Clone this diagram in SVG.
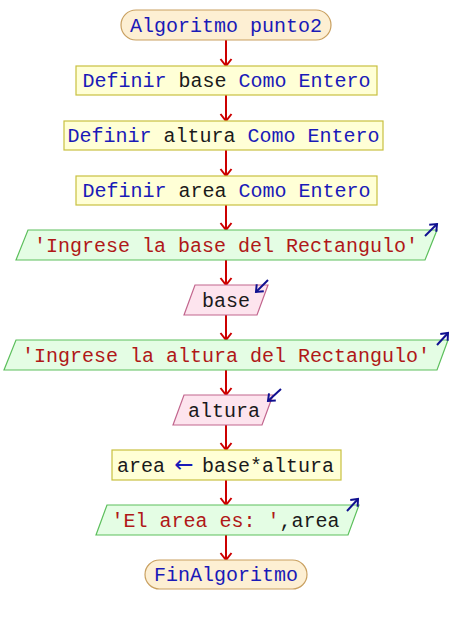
<svg xmlns="http://www.w3.org/2000/svg" width="452" height="625" viewBox="0 0 452 625">
<style>
text{font-family:"Liberation Mono","Courier New",monospace;font-size:20px;text-anchor:middle}
.kw{fill:#1a1ab8}
.id{fill:#1a1a1a}
.str{fill:#b01818}
.term{fill:#fdefd3;stroke:#c9a060;stroke-width:1.2}
.proc{fill:#ffffd6;stroke:#c8c040;stroke-width:1.2}
.out{fill:#e4fde4;stroke:#5cbf5c;stroke-width:1.2}
.in{fill:#fde4ee;stroke:#c2668e;stroke-width:1.2}
.con{stroke:#cc0000;stroke-width:2;fill:none;marker-end:url(#ah)}
.io{stroke:#101090;stroke-width:2;fill:none;marker-end:url(#bh)}
</style>
<defs>
<marker id="ah" markerWidth="10" markerHeight="14" refX="9" refY="7" orient="auto" markerUnits="userSpaceOnUse" viewBox="0 0 10 14">
<path d="M2,1.5 L9,7 L2,12.5" fill="none" stroke="#cc0000" stroke-width="2"/>
</marker>
<marker id="bh" markerWidth="12" markerHeight="12" refX="10" refY="6" orient="auto" markerUnits="userSpaceOnUse" viewBox="0 0 12 12">
<path d="M4,1 L10,6 L4,11" fill="none" stroke="#101090" stroke-width="2"/>
</marker>
</defs>
<g id="connectors">
<line class="con" x1="226" y1="40" x2="226" y2="66"/>
<line class="con" x1="226" y1="95" x2="226" y2="121"/>
<line class="con" x1="226" y1="150" x2="226" y2="176"/>
<line class="con" x1="226" y1="205" x2="226" y2="230"/>
<line class="con" x1="226" y1="260" x2="226" y2="285"/>
<line class="con" x1="226" y1="315" x2="226" y2="340"/>
<line class="con" x1="226" y1="370" x2="226" y2="395"/>
<line class="con" x1="226" y1="425" x2="226" y2="450"/>
<line class="con" x1="226" y1="480" x2="226" y2="505"/>
<line class="con" x1="226" y1="535" x2="226" y2="560"/>
</g>
<g id="start">
<rect class="term" x="121" y="10" width="210" height="30" rx="15"/>
<text x="226" y="32" class="kw">Algoritmo punto2</text>
</g>
<g id="def_base">
<rect class="proc" x="76" y="66" width="301" height="29"/>
<text x="226.5" y="87"><tspan class="kw">Definir</tspan><tspan class="id"> base </tspan><tspan class="kw">Como Entero</tspan></text>
</g>
<g id="def_altura">
<rect class="proc" x="64" y="121" width="319" height="29"/>
<text x="223.5" y="142"><tspan class="kw">Definir</tspan><tspan class="id"> altura </tspan><tspan class="kw">Como Entero</tspan></text>
</g>
<g id="def_area">
<rect class="proc" x="76" y="176" width="301" height="29"/>
<text x="226.5" y="197"><tspan class="kw">Definir</tspan><tspan class="id"> area </tspan><tspan class="kw">Como Entero</tspan></text>
</g>
<g id="out_base">
<polygon class="out" points="28,230 437,230 425,260 16,260"/>
<text x="226" y="252" class="str">'Ingrese la base del Rectangulo'</text>
<line class="io" x1="425" y1="236" x2="437" y2="224"/>
</g>
<g id="in_base">
<polygon class="in" points="195,285 268,285 257,315 184,315"/>
<text x="226" y="307" class="id">base</text>
<line class="io" x1="268" y1="280" x2="256" y2="292"/>
</g>
<g id="out_altura">
<polygon class="out" points="16,340 448,340 437,370 4,370"/>
<text x="226" y="362" class="str">'Ingrese la altura del Rectangulo'</text>
<line class="io" x1="437" y1="345" x2="448" y2="333"/>
</g>
<g id="in_altura">
<polygon class="in" points="184,395 273,395 262,425 173,425"/>
<text x="224" y="417" class="id">altura</text>
<line class="io" x1="281" y1="389" x2="268" y2="401"/>
</g>
<g id="assign">
<rect class="proc" x="112" y="450" width="229" height="30"/>
<text x="117" y="472" class="id" style="text-anchor:start">area</text>
<text x="184" y="472" class="kw" style="font-family:'DejaVu Sans',sans-serif;font-size:23px">←</text>
<text x="202" y="472" class="id" style="text-anchor:start">base*altura</text>
</g>
<g id="out_area">
<polygon class="out" points="107,505 359,505 348,535 96,535"/>
<text x="225.5" y="527"><tspan class="str">'El area es: '</tspan><tspan class="id">,area</tspan></text>
<line class="io" x1="347" y1="511" x2="358" y2="499"/>
</g>
<g id="end">
<rect class="term" x="145" y="560" width="162" height="29" rx="14.5"/>
<text x="226" y="581" class="kw">FinAlgoritmo</text>
</g>
</svg>
